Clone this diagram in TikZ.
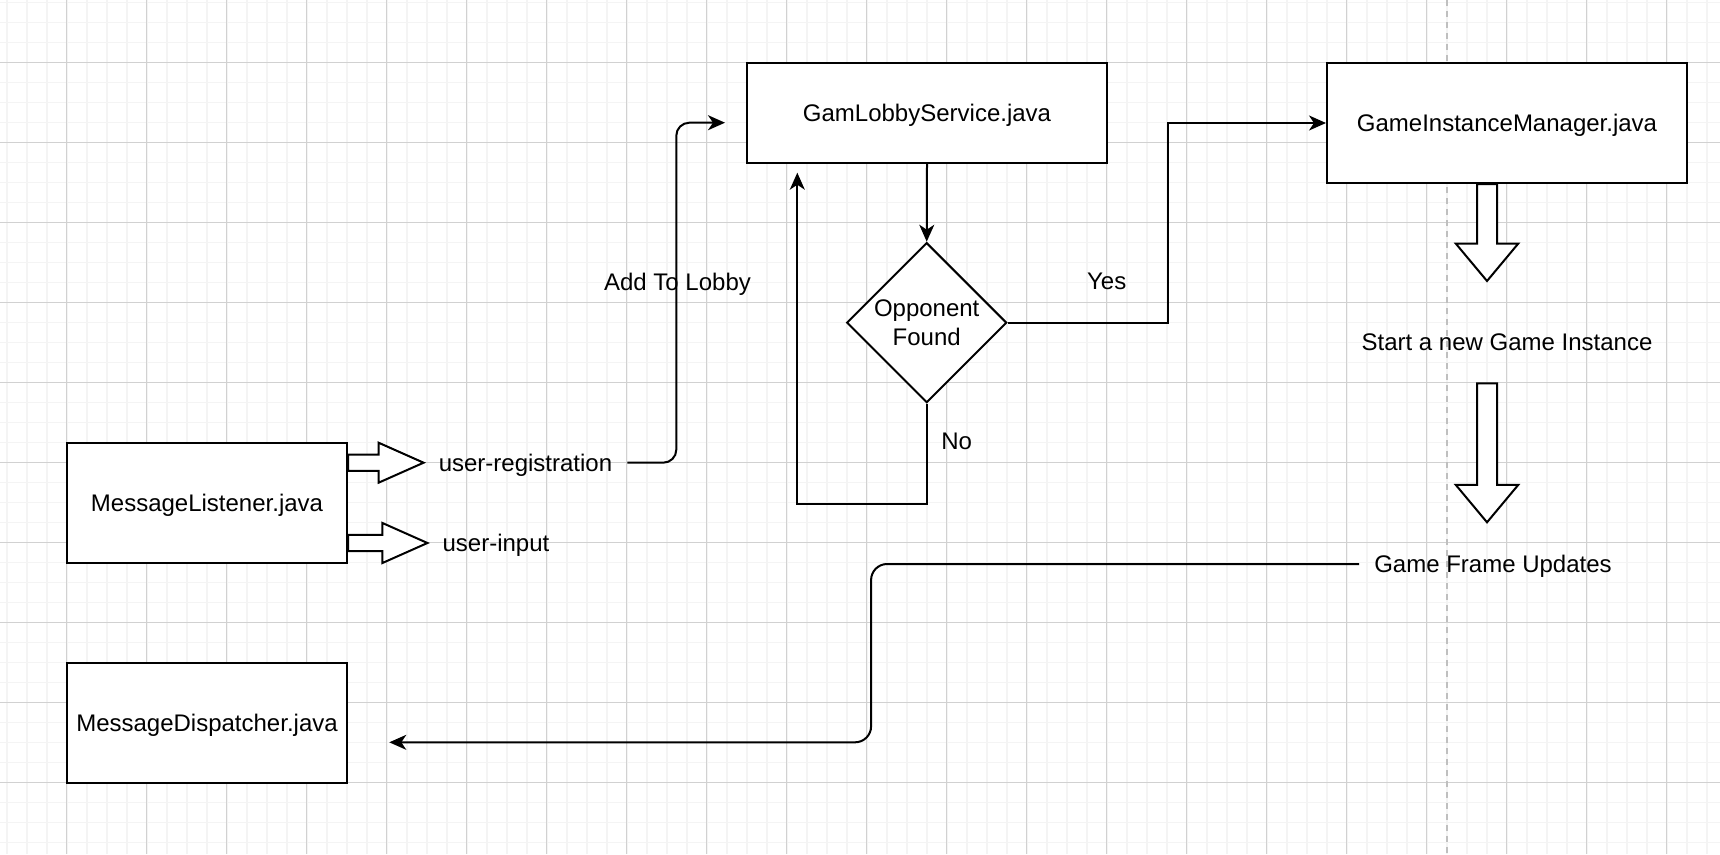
\documentclass[tikz,border=0pt]{standalone}
\usepackage{fontspec}
\setmainfont{Liberation Sans}
\usetikzlibrary{arrows.meta,shapes.geometric,calc}
\newcommand\myhblock[2]{\draw[barrow] ([yshift=8.2pt]#1) -- ([xshift=-45pt,yshift=8.2pt]#2) -- ([xshift=-45pt,yshift=20pt]#2) -- (#2) -- ([xshift=-45pt,yshift=-20pt]#2) -- ([xshift=-45pt,yshift=-8.2pt]#2) -- ([yshift=-8.2pt]#1) -- cycle;}
\newcommand\myvblock[2]{\draw[barrow] ([xshift=-10pt]#1) -- ([xshift=-10pt,yshift=37.5pt]#2) -- ([xshift=-31.3pt,yshift=37.5pt]#2) -- (#2) -- ([xshift=31.3pt,yshift=37.5pt]#2) -- ([xshift=10pt,yshift=37.5pt]#2) -- ([xshift=10pt]#1) -- cycle;}
\begin{document}
\begin{tikzpicture}[x=1pt,y=-1pt,
  every node/.style={font=\fontsize{24}{29}\selectfont, text=black},
  box/.style={draw, line width=2pt, fill=white, inner sep=0pt, text depth=0pt},
  decision/.style={draw, diamond, line width=2pt, fill=white, inner sep=0pt, minimum width=160pt, minimum height=160pt, align=center},
  lbl/.style={inner sep=0pt, text depth=0pt},
  portlbl/.style={inner xsep=15pt, inner ysep=0pt, text depth=0pt},
  conn/.style={line width=2pt, line join=miter, -{Stealth[length=17pt,width=15pt,inset=5pt]}},
  barrow/.style={draw, line width=2pt, fill=white, line join=miter},
  minorgrid/.style={draw=black!4.5, line width=1.6pt},
  majorgrid/.style={draw=black!18, line width=1pt},
  pagebreak/.style={draw=black!25, line width=2pt, dash pattern=on 6pt off 5pt}
]
\useasboundingbox (0,0) rectangle (1720,854);
\fill[white] (0,0) rectangle (1720,854);
% grid
\foreach \i in {0,...,85} { \draw[minorgrid] ({6.7+20*\i},0) -- ({6.7+20*\i},854); }
\foreach \j in {0,...,42} { \draw[minorgrid] (0,{2.3+20*\j}) -- (1720,{2.3+20*\j}); }
\foreach \i in {0,...,20} { \draw[majorgrid] ({66.7+80*\i},0) -- ({66.7+80*\i},854); }
\foreach \j in {0,...,9} { \draw[majorgrid] (0,{62.3+80*\j}) -- (1720,{62.3+80*\j}); }
\draw[pagebreak] (1447,0) -- (1447,854);

% boxes
\node[box, minimum width=280pt, minimum height=120pt] (ml) at (207,503) {MessageListener.java};
\node[box, minimum width=280pt, minimum height=120pt] (md) at (207,722.7) {MessageDispatcher.java};
\node[box, minimum width=360pt, minimum height=100pt] (gls) at (927,113) {GamLobbyService.java};
\node[box, minimum width=360pt, minimum height=120pt] (gim) at (1507,123) {GameInstanceManager.java};
\node[decision] (dia) at (926.7,322.7) {Opponent\\Found};

% text labels
\node[portlbl] (ureg) at (525.5,462.7) {user-registration};
\node[portlbl] (uinp) at (496,543) {user-input};
\node[lbl] (lobby) at (677.5,281.7) {Add To Lobby};
\node[lbl] (yes) at (1106.7,281.7) {Yes};
\node[lbl] (no) at (956.7,441.7) {No};
\node[lbl] (start) at (1507,341.7) {Start a new Game Instance};
\node[portlbl] (gfu) at (1493,564) {Game Frame Updates};

% connectors
\draw[conn, rounded corners=13pt] (ureg.east) -| ([xshift=-69.7pt,yshift=-9.7pt]gls.west) -- ([xshift=-21pt,yshift=-9.7pt]gls.west);
\draw[conn] (gls.south) -- (dia.north);
\draw[conn] (dia.east) -- ++(160.3,0) |- (gim.west);
\draw[conn] (dia.south) -- ++(0,100) -| ([xshift=-129.7pt,yshift=-8.7pt]gls.south);
\draw[conn, rounded corners=16pt] (gfu.west) -- ++(-488,0) |- ([xshift=41.3pt,yshift=-19.6pt]md.east);

% block arrows
\coordinate (ra) at ([yshift=40.3pt]ml.east);
\coordinate (rb) at (ureg.west |- ra);
\coordinate (ia) at ([yshift=-40pt]ml.east);
\coordinate (ib) at (uinp.west |- ia);
\myhblock{ra}{rb}
\myhblock{ia}{ib}
\coordinate (sa) at ([xshift=-20pt]gim.south);
\coordinate (sb) at ([xshift=-20pt,yshift=60.7pt]start.center);
\coordinate (fa) at ([xshift=-20pt,yshift=-41.6pt]start.center);
\coordinate (fb) at ([xshift=-20pt,yshift=-180.6pt]start.center);
\myvblock{sa}{sb}
\myvblock{fa}{fb}
\end{tikzpicture}
\end{document}
